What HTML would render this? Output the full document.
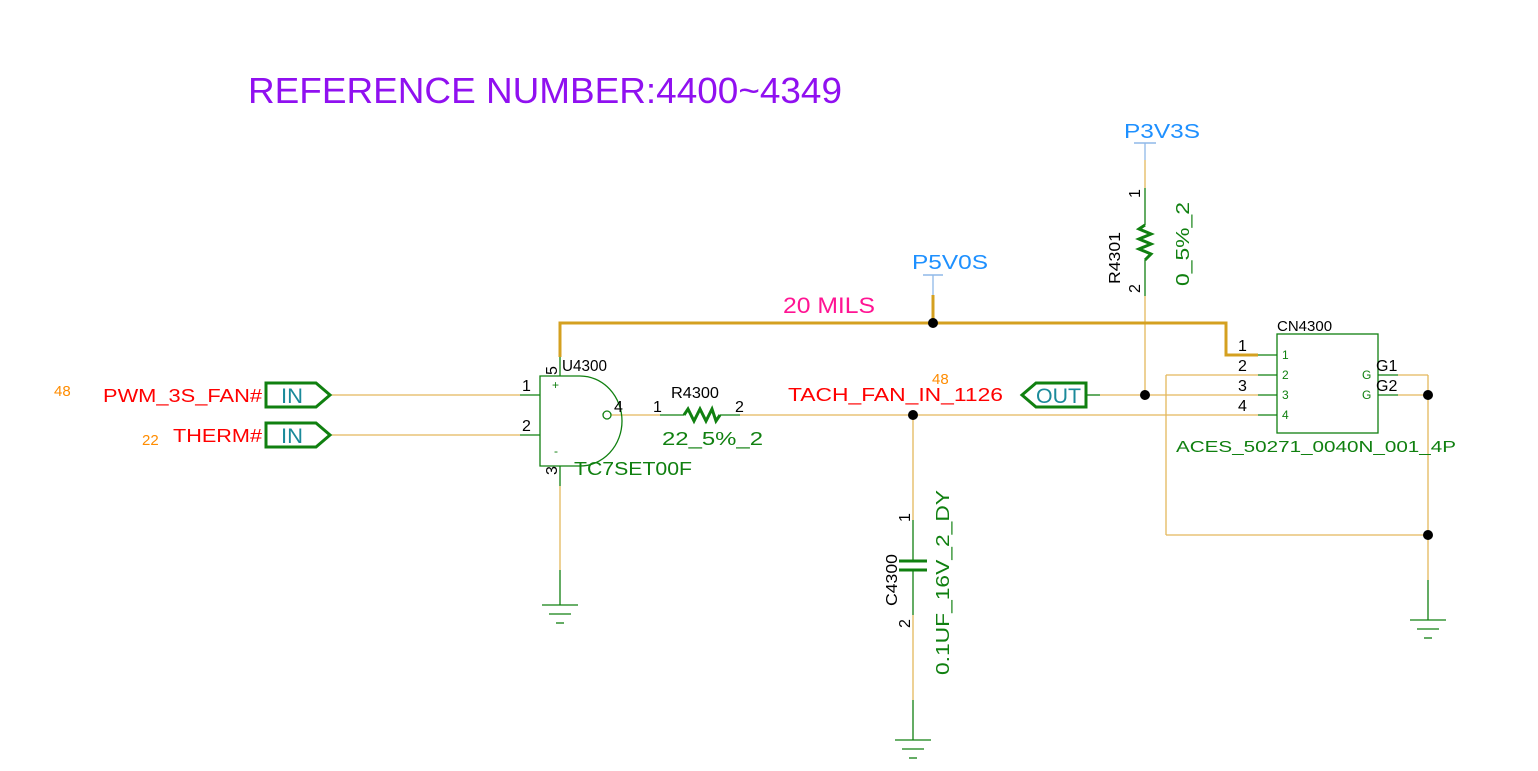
<!DOCTYPE html>
<html><head><meta charset="utf-8"><style>
html,body{margin:0;padding:0;background:#fff;}
svg{display:block;font-family:"Liberation Sans",sans-serif;}
</style></head><body>
<svg width="1538" height="771" viewBox="0 0 1538 771" xmlns="http://www.w3.org/2000/svg">
<text x="248" y="103" font-size="36" fill="#9010f0" textLength="594" lengthAdjust="spacingAndGlyphs">REFERENCE NUMBER:4400~4349</text>

<g stroke="#e3b85c" stroke-width="1.3" fill="none">
<line x1="330" y1="395" x2="520" y2="395"/>
<line x1="330" y1="435" x2="520" y2="435"/>
<line x1="611" y1="415" x2="660" y2="415"/>
<line x1="740" y1="415" x2="1258" y2="415"/>
<line x1="913" y1="415" x2="913" y2="520"/>
<line x1="913" y1="615" x2="913" y2="700"/>
<line x1="560" y1="486" x2="560" y2="570"/>
<line x1="1145" y1="160" x2="1145" y2="188"/>
<line x1="1145" y1="296" x2="1145" y2="395"/>
<line x1="1100" y1="395" x2="1258" y2="395"/>
<line x1="1166" y1="375" x2="1258" y2="375"/>
<line x1="1166" y1="375" x2="1166" y2="535"/>
<line x1="1166" y1="535" x2="1428" y2="535"/>
<line x1="1398" y1="375" x2="1428" y2="375"/>
<line x1="1398" y1="395" x2="1428" y2="395"/>
<line x1="1428" y1="375" x2="1428" y2="580"/>
</g>
<polyline points="560,357 560,323 1226,323 1226,355 1258,355" stroke="#d4a020" stroke-width="3" fill="none"/>
<line x1="933" y1="295" x2="933" y2="323" stroke="#d4a020" stroke-width="3"/>
<line x1="933" y1="275" x2="933" y2="295" stroke="#8fb8e8" stroke-width="1.3"/>
<line x1="923" y1="275" x2="943" y2="275" stroke="#8fb8e8" stroke-width="1.5"/>
<line x1="1145" y1="143" x2="1145" y2="160" stroke="#8fb8e8" stroke-width="1.3"/>
<line x1="1134" y1="143" x2="1156" y2="143" stroke="#8fb8e8" stroke-width="1.5"/>

<g stroke="#108010" stroke-width="1.3" fill="none">
<line x1="520" y1="395" x2="540" y2="395"/>
<line x1="520" y1="435" x2="540" y2="435"/>
<line x1="560" y1="357" x2="560" y2="376"/>
<line x1="560" y1="466" x2="560" y2="486"/>
<path d="M540,376 L580,376 A42,45 0 0 1 580,466 L540,466 Z"/>
<circle cx="607" cy="415" r="4"/>
<line x1="660" y1="415" x2="684" y2="415"/>
<line x1="720" y1="415" x2="740" y2="415"/>
<line x1="913" y1="520" x2="913" y2="561"/>
<line x1="913" y1="570" x2="913" y2="615"/>
<line x1="913" y1="700" x2="913" y2="740"/>
<line x1="560" y1="570" x2="560" y2="605"/>
<line x1="1145" y1="188" x2="1145" y2="225"/>
<line x1="1145" y1="260" x2="1145" y2="296"/>
<line x1="1086" y1="395" x2="1100" y2="395"/>
<line x1="1258" y1="355" x2="1277" y2="355"/>
<line x1="1258" y1="375" x2="1277" y2="375"/>
<line x1="1258" y1="395" x2="1277" y2="395"/>
<line x1="1258" y1="415" x2="1277" y2="415"/>
<line x1="1378" y1="375" x2="1398" y2="375"/>
<line x1="1378" y1="395" x2="1398" y2="395"/>
<line x1="1428" y1="580" x2="1428" y2="620"/>
<rect x="1277" y="334" width="101" height="99"/>
<line x1="542" y1="605" x2="578" y2="605"/><line x1="549" y1="614" x2="571" y2="614"/><line x1="556" y1="623" x2="564" y2="623"/>
<line x1="895" y1="740" x2="931" y2="740"/><line x1="902" y1="749" x2="924" y2="749"/><line x1="909" y1="758" x2="917" y2="758"/>
<line x1="1410" y1="620" x2="1446" y2="620"/><line x1="1417" y1="629" x2="1439" y2="629"/><line x1="1424" y1="638" x2="1432" y2="638"/>
</g>
<g stroke="#108010" stroke-width="3" fill="none">
<polyline points="684,415 688,409 694,421 700,409 706,421 712,409 716,421 720,415"/>
<polyline points="1145,225 1139,229 1151,234 1139,239 1151,244 1139,249 1151,254 1145,260"/>
<line x1="899" y1="561" x2="927" y2="561"/>
<line x1="899" y1="570" x2="927" y2="570"/>
<path d="M266,383 L316,383 L330,395 L316,407 L266,407 Z"/>
<path d="M266,423 L316,423 L330,435 L316,447 L266,447 Z"/>
<path d="M1086,383 L1036,383 L1022,395 L1036,407 L1086,407 Z"/>
</g>
<g fill="#000">
<circle cx="933" cy="323" r="5"/><circle cx="913" cy="415" r="5"/><circle cx="1145" cy="395" r="5"/>
<circle cx="1428" cy="395" r="5"/><circle cx="1428" cy="535" r="5"/>
</g>

<g font-size="21" fill="#1a8a9a">
<text x="281" y="403" textLength="22" lengthAdjust="spacingAndGlyphs">IN</text>
<text x="281" y="443" textLength="22" lengthAdjust="spacingAndGlyphs">IN</text>
<text x="1036" y="403" textLength="45" lengthAdjust="spacingAndGlyphs">OUT</text></g>
<text x="103" y="402" font-size="18" fill="#ff0000" textLength="159" lengthAdjust="spacingAndGlyphs">PWM_3S_FAN#</text>
<text x="173" y="442" font-size="18" fill="#ff0000" textLength="89" lengthAdjust="spacingAndGlyphs">THERM#</text>
<text x="788" y="401" font-size="18" fill="#ff0000" textLength="215" lengthAdjust="spacingAndGlyphs">TACH_FAN_IN_1126</text>
<g font-size="15" fill="#ff8c00"><text x="54" y="396">48</text><text x="142" y="445">22</text><text x="932" y="384">48</text></g>
<text x="783" y="313" font-size="22" fill="#ff1493" textLength="92" lengthAdjust="spacingAndGlyphs">20 MILS</text>
<text x="912" y="269" font-size="20" fill="#1e90ff" textLength="76" lengthAdjust="spacingAndGlyphs">P5V0S</text>
<text x="1124" y="138" font-size="20" fill="#1e90ff" textLength="76" lengthAdjust="spacingAndGlyphs">P3V3S</text>
<g font-size="16" fill="#000">
<text x="562" y="371" textLength="45" lengthAdjust="spacingAndGlyphs">U4300</text>
<text x="671" y="398" textLength="48" lengthAdjust="spacingAndGlyphs">R4300</text>
<text x="1277" y="331" font-size="15">CN4300</text>
<text x="522" y="391">1</text><text x="522" y="431">2</text>
<text x="614" y="412">4</text><text x="653" y="412">1</text><text x="735" y="412">2</text>
<text x="1238" y="351">1</text><text x="1238" y="371">2</text><text x="1238" y="391">3</text><text x="1238" y="411">4</text>
<text x="1376" y="371">G1</text><text x="1376" y="391">G2</text>
<text transform="translate(557,375) rotate(-90)">5</text>
<text transform="translate(557,475) rotate(-90)">3</text>
<text transform="translate(1140,198) rotate(-90)">1</text>
<text transform="translate(1140,293) rotate(-90)">2</text>
<text transform="translate(1120,284) rotate(-90)" textLength="52" lengthAdjust="spacingAndGlyphs">R4301</text>
<text transform="translate(910,522) rotate(-90)">1</text>
<text transform="translate(910,628) rotate(-90)">2</text>
<text transform="translate(897,606) rotate(-90)" textLength="52" lengthAdjust="spacingAndGlyphs">C4300</text>
</g>
<g font-size="18" fill="#108010">
<text x="662" y="445" textLength="101" lengthAdjust="spacingAndGlyphs">22_5%_2</text>
<text x="574" y="475" textLength="118" lengthAdjust="spacingAndGlyphs">TC7SET00F</text>
<text x="1176" y="452" font-size="16" textLength="280" lengthAdjust="spacingAndGlyphs">ACES_50271_0040N_001_4P</text>
<text transform="translate(1189,286) rotate(-90)" textLength="84" lengthAdjust="spacingAndGlyphs">0_5%_2</text>
<text transform="translate(949,675) rotate(-90)" textLength="185" lengthAdjust="spacingAndGlyphs">0.1UF_16V_2_DY</text>
</g>
<g font-size="12" fill="#108010">
<text x="552" y="389">+</text><text x="554" y="455">-</text>
<text x="1282" y="359">1</text><text x="1282" y="379">2</text><text x="1282" y="399">3</text><text x="1282" y="419">4</text>
<text x="1362" y="379">G</text><text x="1362" y="399">G</text>
</g>
</svg>
</body></html>
